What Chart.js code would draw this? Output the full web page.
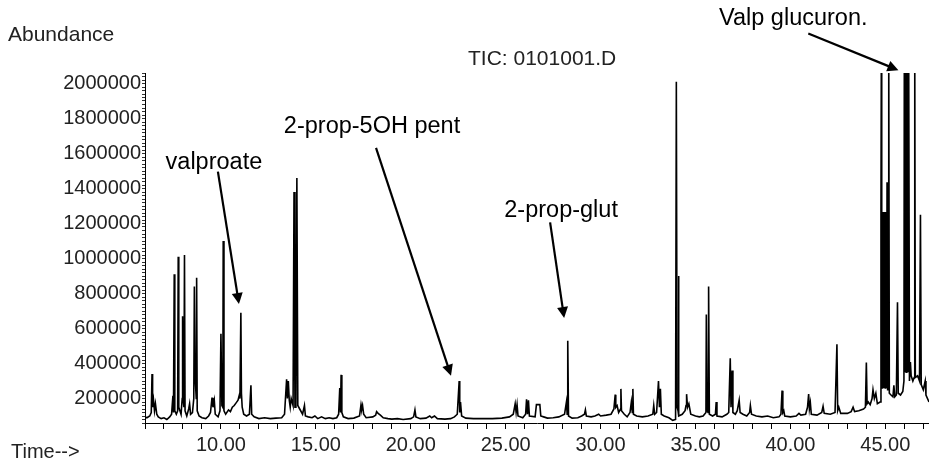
<!DOCTYPE html>
<html>
<head>
<meta charset="utf-8">
<script src="https://cdn.jsdelivr.net/npm/chart.js@4.4.1/dist/chart.umd.min.js"></script>
<style>
  html, body { margin: 0; padding: 0; background: #fff; }
  #wrap { width: 929px; height: 468px; }
</style>
</head>
<body>
<div id="wrap"><canvas id="tic"></canvas></div>
<script>
// total ion chromatogram: [time (min), abundance]
const traceEarly = [
  [6.00, 95000], [6.10, 90000], [6.25, 100000], [6.33, 120000], [6.37, 340000], [6.40, 150000],
  [6.45, 190000], [6.50, 130000], [6.55, 170000], [6.62, 110000], [6.70, 95000], [6.85, 85000],
  [7.00, 90000], [7.15, 80000], [7.30, 95000], [7.40, 110000], [7.47, 215000], [7.50, 120000],
  [7.54, 910000], [7.57, 130000], [7.65, 110000], [7.72, 130000], [7.75, 1010000], [7.78, 150000],
  [7.90, 110000], [7.96, 200000], [7.98, 670000], [8.01, 200000], [8.05, 150000], [8.08, 1020000],
  [8.11, 130000], [8.20, 100000], [8.30, 140000], [8.35, 170000], [8.40, 110000], [8.50, 120000],
  [8.57, 200000], [8.60, 840000], [8.65, 300000], [8.70, 200000], [8.72, 890000], [8.75, 130000],
  [8.85, 100000], [9.00, 90000], [9.20, 85000], [9.35, 100000], [9.45, 120000], [9.53, 205000],
  [9.58, 150000], [9.65, 190000], [9.70, 110000], [9.85, 95000], [9.95, 130000], [10.00, 570000],
  [10.05, 160000], [10.10, 150000], [10.12, 1100000], [10.16, 130000], [10.25, 110000], [10.40, 135000],
  [10.50, 125000], [10.60, 150000], [10.70, 160000], [10.80, 175000], [10.90, 190000], [10.97, 220000],
  [11.00, 200000], [11.05, 690000], [11.08, 230000], [11.12, 150000], [11.20, 110000], [11.35, 100000],
  [11.50, 110000], [11.58, 275000], [11.62, 110000], [11.75, 95000]
];

const traceMiddle = [
  [12.00, 85000], [12.30, 90000], [12.60, 85000], [12.90, 88000], [13.20, 90000], [13.35, 110000],
  [13.46, 310000], [13.50, 200000], [13.55, 300000], [13.60, 190000], [13.65, 150000], [13.70, 200000],
  [13.80, 160000], [13.85, 1380000], [13.90, 150000], [13.95, 150000], [14.00, 1460000], [14.05, 160000],
  [14.15, 140000], [14.30, 110000], [14.40, 160000], [14.45, 100000], [14.60, 95000], [14.80, 90000],
  [14.95, 100000], [15.10, 85000], [15.30, 95000], [15.50, 85000], [15.70, 90000], [15.90, 85000],
  [16.10, 90000], [16.20, 110000], [16.26, 260000], [16.30, 120000], [16.33, 335000], [16.37, 120000],
  [16.45, 95000], [16.70, 85000], [17.00, 88000], [17.30, 100000], [17.38, 165000], [17.42, 140000],
  [17.46, 160000], [17.52, 110000], [17.65, 90000], [18.00, 95000], [18.15, 105000], [18.20, 125000],
  [18.28, 115000], [18.40, 105000], [18.55, 90000], [18.80, 85000], [19.00, 82000], [19.30, 85000],
  [19.60, 80000], [20.00, 85000], [20.15, 95000], [20.22, 135000], [20.27, 95000], [20.50, 85000],
  [20.80, 88000], [21.00, 100000], [21.10, 90000], [21.25, 100000], [21.40, 85000], [21.80, 82000],
  [22.10, 85000], [22.30, 95000], [22.45, 110000], [22.55, 300000], [22.58, 120000], [22.62, 180000],
  [22.68, 100000], [22.90, 88000], [23.30, 85000], [23.80, 85000]
];

const traceLate = [
  [24.30, 85000], [24.80, 88000], [25.20, 95000], [25.40, 110000], [25.50, 170000], [25.55, 120000],
  [25.60, 165000], [25.65, 100000], [25.90, 90000], [26.05, 110000], [26.10, 195000], [26.15, 110000],
  [26.20, 190000], [26.25, 100000], [26.55, 95000], [26.62, 165000], [26.80, 165000], [26.85, 100000],
  [27.00, 95000], [27.20, 88000], [27.50, 90000], [27.80, 95000], [28.10, 110000], [28.20, 180000],
  [28.24, 110000], [28.27, 530000], [28.31, 100000], [28.50, 88000], [28.80, 90000], [29.00, 100000],
  [29.15, 110000], [29.20, 135000], [29.25, 100000], [29.50, 95000], [29.70, 100000], [29.90, 110000],
  [30.00, 100000], [30.30, 105000], [30.55, 110000], [30.70, 140000], [30.77, 222000], [30.80, 150000],
  [30.87, 160000], [30.95, 120000], [31.05, 140000], [31.07, 255000], [31.10, 130000], [31.25, 110000],
  [31.40, 95000], [31.55, 120000], [31.62, 180000], [31.67, 120000], [31.70, 255000], [31.73, 110000],
  [31.90, 100000], [32.20, 95000], [32.50, 100000], [32.75, 110000], [32.80, 160000], [32.85, 110000],
  [32.95, 120000], [33.05, 300000], [33.10, 150000], [33.15, 255000], [33.20, 110000], [33.35, 100000],
  [33.60, 90000], [33.80, 75000], [33.95, 80000], [33.99, 2010000], [34.03, 150000], [34.08, 130000],
  [34.10, 900000], [34.13, 100000], [34.30, 110000], [34.45, 130000], [34.50, 160000], [34.53, 225000],
  [34.58, 150000], [34.65, 170000], [34.75, 110000], [35.00, 100000], [35.20, 95000], [35.40, 100000],
  [35.55, 120000], [35.57, 680000], [35.62, 130000], [35.66, 120000], [35.69, 840000], [35.73, 110000],
  [35.90, 100000]
];

const traceEnd = [
  [36.05, 110000], [36.09, 180000], [36.13, 100000], [36.40, 95000], [36.65, 110000], [36.75, 120000],
  [36.83, 430000], [36.87, 150000], [36.93, 360000], [36.97, 120000], [37.10, 110000], [37.20, 130000],
  [37.30, 190000], [37.35, 120000], [37.50, 110000], [37.70, 100000], [37.85, 120000], [37.89, 160000],
  [37.95, 110000], [38.20, 100000], [38.50, 95000], [38.80, 100000], [39.10, 90000], [39.40, 95000],
  [39.50, 110000], [39.56, 245000], [39.60, 120000], [39.65, 130000], [39.70, 100000], [40.00, 95000],
  [40.30, 100000], [40.45, 115000], [40.55, 105000], [40.80, 110000], [40.90, 150000], [40.96, 225000],
  [41.00, 140000], [41.05, 175000], [41.10, 110000], [41.40, 105000], [41.65, 120000], [41.72, 155000],
  [41.78, 115000], [42.10, 110000], [42.35, 120000], [42.45, 510000], [42.49, 130000], [42.55, 150000],
  [42.65, 115000], [43.00, 115000], [43.20, 125000], [43.30, 150000], [43.38, 125000], [43.60, 130000],
  [43.85, 140000], [43.95, 150000], [44.00, 405000], [44.04, 170000], [44.10, 180000], [44.20, 165000],
  [44.30, 200000], [44.35, 250000], [44.42, 200000], [44.50, 230000], [44.58, 170000], [44.72, 180000],
  // first glucuronide cluster: dense scans, solid black up to ~1.27M
  [44.77, 1270000], [44.79, 2200000], [44.81, 1265000], [44.83, 260000], [44.85, 1265000], [44.87, 260000],
  [44.89, 1265000], [44.91, 260000], [44.93, 1265000], [44.95, 260000], [44.97, 1265000], [44.99, 260000],
  [45.01, 1265000], [45.03, 260000], [45.05, 1265000], [45.07, 260000], [45.09, 1435000], [45.11, 1265000],
  [45.13, 250000], [45.16, 250000], [45.18, 2200000], [45.21, 230000], [45.30, 220000], [45.40, 210000],
  [45.45, 275000], [45.50, 210000], [45.58, 220000], [45.64, 750000], [45.68, 230000], [45.80, 220000],
  [45.92, 240000], [45.98, 300000],
  // second cluster, off scale
  [46.00, 2200000], [46.02, 350000], [46.04, 2200000], [46.06, 350000], [46.08, 2200000], [46.10, 350000],
  [46.12, 2200000], [46.14, 350000], [46.16, 2200000], [46.18, 350000], [46.20, 2200000], [46.22, 350000],
  [46.24, 2200000], [46.27, 300000], [46.32, 408000], [46.36, 330000], [46.45, 300000], [46.52, 320000],
  [46.55, 2200000], [46.58, 320000], [46.70, 330000], [46.80, 300000], [46.85, 1250000], [46.89, 280000],
  [47.00, 250000], [47.10, 300000], [47.14, 220000], [47.30, 180000]
];

const timeLabels = [10, 15, 20, 25, 30, 35, 40, 45];
const abundanceLabels = [200000, 400000, 600000, 800000, 1000000, 1200000, 1400000, 1600000, 1800000, 2000000];

// arrows and peak names, in data units: [time, abundance]
const peakNotes = [
  { text: 'valproate', at: [9.63, 1547000], from: [9.84, 1496000], to: [10.95, 740000] },
  { text: '2-prop-5OH pent', at: [17.96, 1752000], from: [18.17, 1632000], to: [22.12, 330000] },
  { text: '2-prop-glut', at: [27.92, 1274000], from: [27.34, 1206000], to: [28.08, 660000] },
  { text: 'Valp glucuron.', at: [40.15, 2371000], from: [40.94, 2286000], to: [45.69, 2076000] }
];

const axisFont = { family: 'Liberation Sans, Arial, sans-serif', size: 20 };

const notesPlugin = {
  id: 'notes',
  afterDraw(chart) {
    const { ctx, scales: { x, y } } = chart;
    ctx.save();
    ctx.fillStyle = '#222';
    ctx.font = '21px Liberation Sans, Arial, sans-serif';
    ctx.textBaseline = 'middle';
    ctx.textAlign = 'left';
    ctx.fillText('Abundance', 8, 35);
    ctx.fillText('TIC: 0101001.D', 468, 59);
    ctx.font = '20px Liberation Sans, Arial, sans-serif';
    ctx.fillText('Time-->', 11, 452);

    ctx.fillStyle = '#000';
    ctx.strokeStyle = '#000';
    ctx.lineWidth = 2.2;
    ctx.font = '23.5px Liberation Sans, Arial, sans-serif';
    ctx.textAlign = 'center';
    peakNotes.forEach(n => {
      ctx.fillText(n.text, x.getPixelForValue(n.at[0]), y.getPixelForValue(n.at[1]));
      const x0 = x.getPixelForValue(n.from[0]), y0 = y.getPixelForValue(n.from[1]);
      const x1 = x.getPixelForValue(n.to[0]), y1 = y.getPixelForValue(n.to[1]);
      const a = Math.atan2(y1 - y0, x1 - x0);
      const hl = 11, hw = 5.5;
      ctx.beginPath();
      ctx.moveTo(x0, y0);
      ctx.lineTo(x1 - Math.cos(a) * hl * 0.8, y1 - Math.sin(a) * hl * 0.8);
      ctx.stroke();
      ctx.beginPath();
      ctx.moveTo(x1, y1);
      ctx.lineTo(x1 - Math.cos(a) * hl - Math.sin(a) * hw, y1 - Math.sin(a) * hl + Math.cos(a) * hw);
      ctx.lineTo(x1 - Math.cos(a) * hl + Math.sin(a) * hw, y1 - Math.sin(a) * hl - Math.cos(a) * hw);
      ctx.closePath();
      ctx.fill();
    });
    ctx.restore();
  }
};

const points = traceEarly.concat(traceMiddle, traceLate, traceEnd).map(p => ({ x: p[0], y: p[1] }));

new Chart(document.getElementById('tic'), {
  type: 'line',
  data: {
    datasets: [{
      data: points,
      borderColor: '#000',
      borderWidth: 1.6,
      pointRadius: 0,
      tension: 0,
      fill: false
    }]
  },
  options: {
    responsive: true,
    maintainAspectRatio: false,
    animation: false,
    devicePixelRatio: 1,
    layout: { padding: { top: 73, left: 0, right: 0, bottom: 0 } },
    plugins: { legend: { display: false }, tooltip: { enabled: false } },
    scales: {
      x: {
        type: 'linear',
        min: 6.0,
        max: 47.3,
        afterFit: s => { s.height = 45; },
        border: { display: true, color: '#000', width: 1 },
        grid: { drawOnChartArea: false, drawTicks: true, tickLength: 6, color: '#000' },
        ticks: {
          stepSize: 1,
          autoSkip: false,
          maxRotation: 0,
          includeBounds: false,
          padding: 4,
          color: '#222',
          font: axisFont,
          callback: v => {
            const r = Math.round(v);
            return Math.abs(v - r) < 1e-6 && timeLabels.includes(r) ? r.toFixed(2) : '';
          }
        }
      },
      y: {
        // range spans a whole number of 20000 steps so ticks land on round values
        min: 60000,
        max: 2060000,
        afterFit: s => { s.width = 145; },
        border: { display: true, color: '#000', width: 1 },
        grid: { drawOnChartArea: false, drawTicks: true, tickLength: 3, color: '#333' },
        ticks: {
          stepSize: 20000,
          autoSkip: false,
          includeBounds: false,
          padding: 1,
          color: '#222',
          font: axisFont,
          callback: v => abundanceLabels.includes(Math.round(v)) ? String(Math.round(v)) : ''
        }
      }
    }
  },
  plugins: [notesPlugin]
});
</script>
</body>
</html>
